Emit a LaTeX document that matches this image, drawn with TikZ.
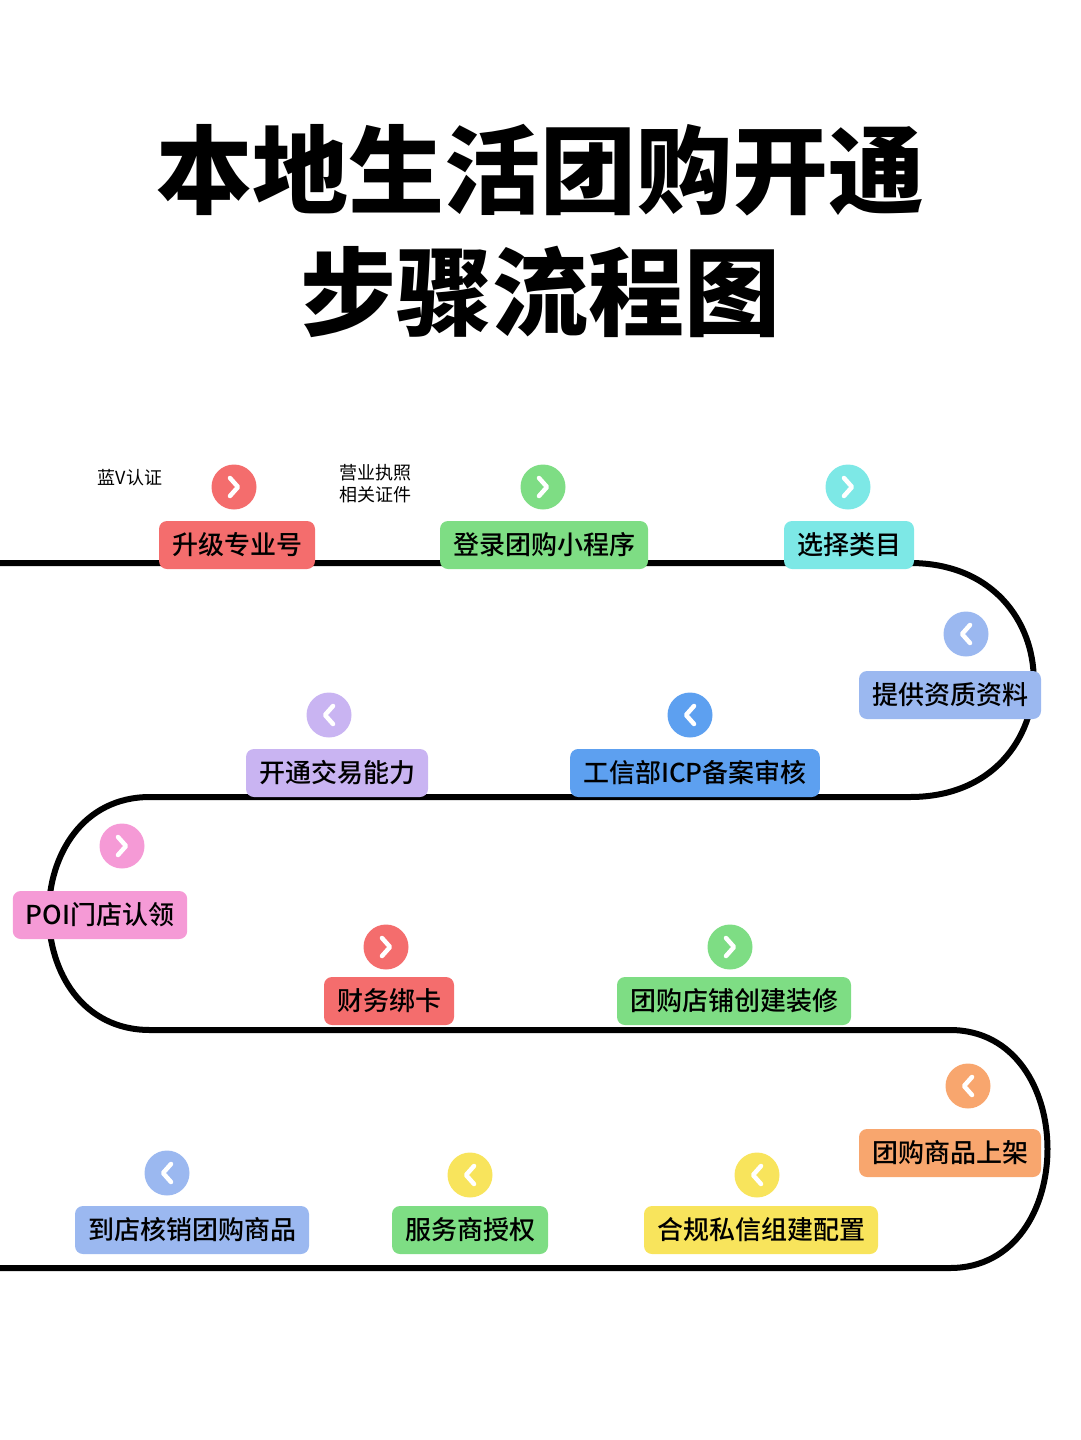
\documentclass[tikz,border=0pt]{standalone}
\usepackage{fontspec}
\setmainfont{Noto Sans CJK SC}
\newfontfamily\cjkmed{Noto Sans CJK SC Medium}
\usetikzlibrary{positioning}
\definecolor{cred}{HTML}{F46D6D}
\definecolor{cgreen}{HTML}{7EDD84}
\definecolor{ccyan}{HTML}{7DE8E6}
\definecolor{clblue}{HTML}{9BB8F0}
\definecolor{cblue}{HTML}{5DA0F0}
\definecolor{cpurple}{HTML}{C9B4F2}
\definecolor{cpink}{HTML}{F59AD6}
\definecolor{corange}{HTML}{F8A66E}
\definecolor{cyellow}{HTML}{F8E45C}
% chevron inside a step circle
\newcommand{\stepdot}[4]{%
  \node[dot, fill=#3] (#1) at (#2) {};
  \ifx#4r\draw[chev] ([xshift=-4pt,yshift=9pt]#1.center) -- ++(8pt,-9pt) -- ++(-8pt,-9pt);
  \else\draw[chev] ([xshift=4pt,yshift=9pt]#1.center) -- ++(-8pt,-9pt) -- ++(8pt,-9pt);\fi}
\begin{document}
\begin{tikzpicture}[x=1pt,y=-1pt,
    stepbox/.style={rectangle, rounded corners=8pt, minimum height=48pt, inner xsep=13pt, font=\cjkmed\fontsize{26}{26}\selectfont},
    dot/.style={circle, minimum size=45pt, inner sep=0pt},
    chev/.style={white, line width=4.5pt, line cap=round, line join=round},
    road/.style={line width=6pt, line join=round}
]
\useasboundingbox (0,0) rectangle (1080,1440);

% title
\node[font=\fontsize{96}{96}\selectfont\bfseries] (title1) at (540,170) {本地生活团购开通};
\node[font=\fontsize{96}{96}\selectfont\bfseries] (title2) at (540,292) {步骤流程图};

% road
\draw[road] (0,563) -- (910,563) .. controls (1075,563) and (1075,797) .. (910,797)
  -- (150,797) .. controls (15,797) and (15,1030) .. (150,1030)
  -- (950,1030) .. controls (1080,1030) and (1080,1268) .. (950,1268) -- (0,1268);

% notes
\node[font=\fontsize{18}{18}\selectfont] (noteV) at (130,478) {蓝V认证};
\node[font=\fontsize{18}{22}\selectfont, align=left] (noteLic) at (375,484) {营业执照\\相关证件};

% steps
\node[stepbox, fill=cred] (s1) at (237,545) {升级专业号};
\node[stepbox, fill=cgreen] (s2) at (544,545) {登录团购小程序};
\node[stepbox, fill=ccyan] (s3) at (849,545) {选择类目};
\node[stepbox, fill=clblue] (s4) at (950,695) {提供资质资料};
\node[stepbox, fill=cblue] (s5) at (695,773) {工信部ICP备案审核};
\node[stepbox, fill=cpurple] (s6) at (337,773) {开通交易能力};
\node[stepbox, fill=cpink] (s7) at (100,915) {POI门店认领};
\node[stepbox, fill=cred] (s8) at (389,1001) {财务绑卡};
\node[stepbox, fill=cgreen] (s9) at (734,1001) {团购店铺创建装修};
\node[stepbox, fill=corange] (s10) at (950,1153) {团购商品上架};
\node[stepbox, fill=cyellow] (s11) at (761,1230) {合规私信组建配置};
\node[stepbox, fill=cgreen] (s12) at (470,1230) {服务商授权};
\node[stepbox, fill=clblue] (s13) at (192,1230) {到店核销团购商品};

% markers
\stepdot{d1}{234,487}{cred}{r}
\stepdot{d2}{543,487}{cgreen}{r}
\stepdot{d3}{848,487}{ccyan}{r}
\stepdot{d4}{966,634}{clblue}{l}
\stepdot{d5}{690,715}{cblue}{l}
\stepdot{d6}{329,715}{cpurple}{l}
\stepdot{d7}{122,846}{cpink}{r}
\stepdot{d8}{386,947}{cred}{r}
\stepdot{d9}{730,947}{cgreen}{r}
\stepdot{d10}{968,1086}{corange}{l}
\stepdot{d11}{757,1175}{cyellow}{l}
\stepdot{d12}{470,1175}{cyellow}{l}
\stepdot{d13}{167,1173}{clblue}{l}
\end{tikzpicture}
\end{document}
